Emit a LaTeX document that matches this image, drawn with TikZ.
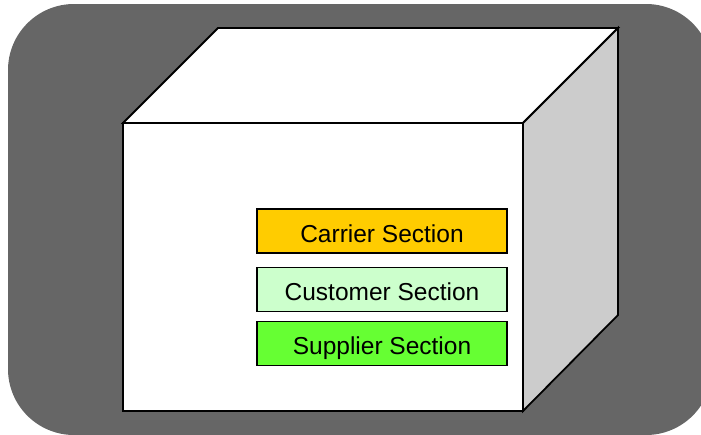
\documentclass[tikz,border=0pt]{standalone}
\usepackage{fontspec}
\setmainfont{Liberation Sans}
\begin{document}
\begin{tikzpicture}[x=1pt,y=-1pt,
  edge/.style={draw=black,line width=1.8pt,line join=miter},
  section/.style={draw=black,line width=1.8pt,minimum width=250pt,minimum height=44pt,inner sep=0pt,text height=17.5pt,text depth=0pt,font=\fontsize{24.5}{28}\selectfont}]
\useasboundingbox (0,0) rectangle (701,434);
\begin{scope}
\clip (0,0) rectangle (701,434);
\fill[fill=black!60,rounded corners=66pt] (8,4) rectangle (712,435);
\end{scope}
% cube
\path[edge,fill=white] (123,123) -- (218,28) -- (618,28) -- (523,123) -- cycle;
\path[edge,fill=black!20] (523,123) -- (618,28) -- (618,315) -- (523,411) -- cycle;
\path[edge,fill=white] (123,123) rectangle (523,411);
% sections
\node[section,fill={rgb,255:red,255;green,204;blue,0}] (carrier) at (382,231) {\raisebox{-2.5pt}{Carrier Section}};
\node[section,fill={rgb,255:red,204;green,255;blue,204}] (customer) at (382,289.5) {\raisebox{-2.5pt}{Customer Section}};
\node[section,fill={rgb,255:red,102;green,255;blue,51}] (supplier) at (382,343.5) {\raisebox{-2.5pt}{Supplier Section}};
\end{tikzpicture}
\end{document}
